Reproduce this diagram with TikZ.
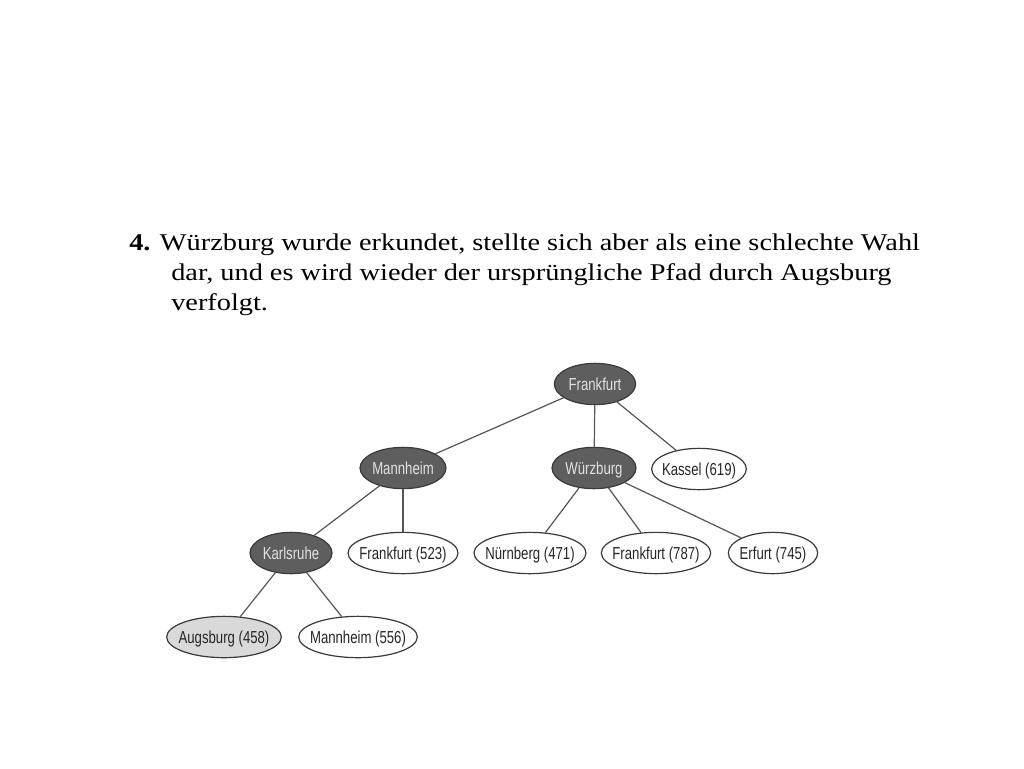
\documentclass[tikz,border=0pt]{standalone}
\usepackage{fontspec}
\setmainfont{Liberation Serif}
\newfontfamily\captionfont[FakeStretch=1.18]{Liberation Serif}
\newfontfamily\nodefont[FakeStretch=0.76]{Liberation Sans}
\usetikzlibrary{shapes.geometric}
\definecolor{darkfill}{HTML}{5E5E5E}
\definecolor{lightfill}{HTML}{D9D9D9}
\definecolor{rimcol}{HTML}{3A3A3A}
\definecolor{edgecol}{HTML}{555555}
\definecolor{lighttext}{HTML}{E2E2E2}
\newcommand{\cityname}[1]{\makebox[0pt]{#1}}
\begin{document}
\begin{tikzpicture}[x=0.75pt,y=-0.75pt,
  city/.style={ellipse,draw=rimcol,line width=0.9pt,inner sep=0pt,minimum height=31pt,text height=10.5pt,text depth=1pt,font=\nodefont\fontsize{13}{15}\selectfont,text=black!85},
  expanded/.style={city,fill=darkfill,text=lighttext},
  current/.style={city,fill=lightfill},
  open/.style={city,fill=white},
  edge/.style={draw=edgecol,line width=0.9pt},
  caption/.style={anchor=base west,inner sep=0pt,font=\captionfont\fontsize{18}{20}\selectfont}]
\useasboundingbox (0,0) rectangle (1024,768);
\node[caption] (l1) at (129,250) {\textbf{4.} Würzburg wurde erkundet, stellte sich aber als eine schlechte Wahl};
\node[caption] (l2) at (171,280) {dar, und es wird wieder der ursprüngliche Pfad durch Augsburg};
\node[caption] (l3) at (171,310) {verfolgt.};

\node[expanded,minimum width=61pt] (fra) at (595,384) {\cityname{Frankfurt}};
\node[expanded,minimum width=64.5pt] (man) at (403,468) {\cityname{Mannheim}};
\node[expanded,minimum width=63pt] (wue) at (594,468) {\cityname{Würzburg}};
\node[open,minimum width=71pt] (kas) at (699,469) {\cityname{Kassel (619)}};
\node[expanded,minimum width=61.5pt] (kar) at (291,553) {\cityname{Karlsruhe}};
\node[open,minimum width=82.5pt] (fra2) at (403,553) {\cityname{Frankfurt (523)}};
\node[open,minimum width=84pt] (nue) at (530,553) {\cityname{Nürnberg (471)}};
\node[open,minimum width=82pt] (fra3) at (656,553) {\cityname{Frankfurt (787)}};
\node[open,minimum width=67pt] (erf) at (773,553) {\cityname{Erfurt (745)}};
\node[current,minimum width=86pt] (aug) at (224,637) {\cityname{Augsburg (458)}};
\node[open,minimum width=89pt] (man2) at (358,637) {\cityname{Mannheim (556)}};

\draw[edge] (fra) -- (man);
\draw[edge] (fra) -- (wue);
\draw[edge] (fra) -- (kas);
\draw[edge] (man) -- (kar);
\draw[edge] (man) -- (fra2);
\draw[edge] (wue) -- (nue);
\draw[edge] (wue) -- (fra3);
\draw[edge] (wue) -- (erf);
\draw[edge] (kar) -- (aug);
\draw[edge] (kar) -- (man2);
\end{tikzpicture}
\end{document}
